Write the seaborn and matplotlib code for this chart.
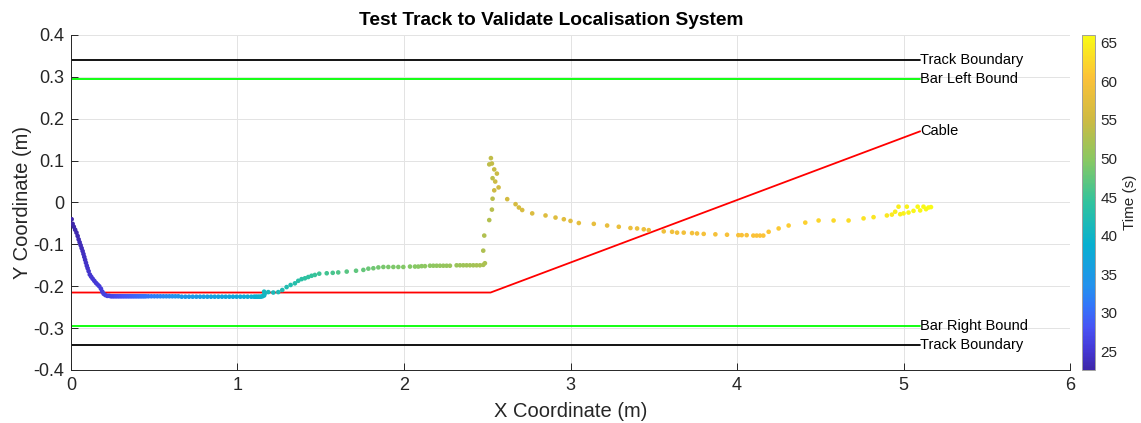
import numpy as np
import matplotlib
matplotlib.use("Agg")
import matplotlib.pyplot as plt
from matplotlib.colors import LinearSegmentedColormap, Normalize
from matplotlib.cm import ScalarMappable
import seaborn as sns

# ---------------------------------------------------------------- data
# Measured robot positions (m) and the time each sample was taken (s)
x_m = [
    # initial descent towards the cable
    0.004, 0.010, 0.017, 0.025, 0.033, 0.040, 0.046, 0.052, 0.058, 0.064,
    0.070, 0.075, 0.080, 0.085, 0.090, 0.095, 0.100, 0.106, 0.113, 0.121,
    0.130, 0.140, 0.150, 0.160, 0.170, 0.180, 0.188, 0.196, 0.206, 0.218,
    # slow straight run below the cable
    0.230, 0.240, 0.250, 0.260, 0.270, 0.280, 0.290, 0.300, 0.310, 0.320,
    0.330, 0.340, 0.350, 0.360, 0.370, 0.380, 0.390, 0.400, 0.410, 0.420,
    0.430, 0.440, 0.450,
    0.465, 0.483, 0.501, 0.519, 0.537, 0.555, 0.573, 0.591, 0.609, 0.627,
    0.645,
    0.665, 0.687, 0.709, 0.731, 0.753, 0.775, 0.797, 0.819, 0.841, 0.863,
    0.885, 0.907, 0.929, 0.951, 0.973, 0.995, 1.017, 1.039, 1.061, 1.083,
    1.100, 1.110, 1.120, 1.130, 1.140, 1.150, 1.160, 1.163, 1.160,
    # climb to the second straight
    1.185, 1.215, 1.245, 1.269, 1.295, 1.319, 1.345, 1.365, 1.385, 1.405,
    1.425, 1.445, 1.465, 1.491, 1.536, 1.572, 1.605, 1.656, 1.712, 1.756,
    1.786, 1.816, 1.846,
    1.876, 1.906, 1.936, 1.966, 1.996, 2.036, 2.066, 2.086, 2.106, 2.126,
    2.156, 2.176, 2.196, 2.216, 2.236, 2.256, 2.276, 2.316, 2.336, 2.356,
    2.376, 2.396, 2.416, 2.436, 2.456, 2.476,
    # spike at the cable bend
    2.486, 2.476, 2.482, 2.512, 2.528, 2.532, 2.532, 2.512, 2.522, 2.528,
    2.542, 2.558, 2.548, 2.542, 2.568,
    # long diagonal section
    2.620, 2.670, 2.690, 2.710, 2.770, 2.850, 2.910, 2.960, 3.000, 3.050,
    3.140, 3.220, 3.290, 3.360, 3.400, 3.440, 3.470, 3.560, 3.610, 3.640,
    3.680, 3.730, 3.760, 3.800, 3.870, 3.940,
    4.008, 4.028, 4.058, 4.098, 4.118, 4.138, 4.158,
    # final approach
    4.190, 4.250, 4.310, 4.410, 4.490, 4.580, 4.670, 4.760, 4.820, 4.900,
    4.930, 4.950, 4.970, 4.980, 5.000, 5.020, 5.030, 5.060, 5.085, 5.100,
    5.120, 5.135, 5.150, 5.165,
]
y_m = [
    -0.040, -0.051, -0.058, -0.065, -0.072, -0.080, -0.088, -0.095, -0.102, -0.109,
    -0.116, -0.123, -0.130, -0.137, -0.144, -0.151, -0.157, -0.164, -0.172, -0.177,
    -0.182, -0.187, -0.192, -0.196, -0.200, -0.206, -0.213, -0.218, -0.221, -0.223,
    -0.223, -0.224, -0.224, -0.224, -0.224, -0.224, -0.224, -0.224, -0.224, -0.224,
    -0.224, -0.224, -0.224, -0.224, -0.224, -0.224, -0.224, -0.224, -0.224, -0.224,
    -0.224, -0.224, -0.224,
    -0.224, -0.224, -0.224, -0.224, -0.224, -0.224, -0.224, -0.224, -0.224, -0.224,
    -0.224,
    -0.225, -0.225, -0.225, -0.225, -0.225, -0.225, -0.225, -0.225, -0.225, -0.225,
    -0.225, -0.225, -0.225, -0.225, -0.225, -0.225, -0.225, -0.225, -0.225, -0.225,
    -0.225, -0.225, -0.225, -0.225, -0.225, -0.224, -0.222, -0.218, -0.213,
    -0.214, -0.215, -0.214, -0.209, -0.202, -0.197, -0.193, -0.187, -0.183, -0.181,
    -0.178, -0.175, -0.173, -0.170, -0.169, -0.168, -0.167, -0.165, -0.163, -0.161,
    -0.158, -0.157, -0.155,
    -0.154, -0.154, -0.154, -0.154, -0.154, -0.153, -0.153, -0.153, -0.152, -0.152,
    -0.151, -0.151, -0.151, -0.151, -0.151, -0.151, -0.151, -0.150, -0.150, -0.150,
    -0.150, -0.150, -0.150, -0.150, -0.150, -0.149,
    -0.145, -0.115, -0.079, -0.042, -0.017, 0.009, 0.058, 0.091, 0.106, 0.093,
    0.079, 0.069, 0.050, 0.029, 0.036,
    0.008, -0.004, -0.012, -0.018, -0.026, -0.031, -0.036, -0.040, -0.044, -0.049,
    -0.051, -0.055, -0.058, -0.061, -0.062, -0.064, -0.066, -0.069, -0.070, -0.072,
    -0.072, -0.073, -0.074, -0.075, -0.076, -0.077,
    -0.078, -0.078, -0.078, -0.079, -0.079, -0.079, -0.079,
    -0.070, -0.062, -0.055, -0.048, -0.043, -0.043, -0.043, -0.038, -0.035, -0.031,
    -0.029, -0.022, -0.010, -0.028, -0.026, -0.010, -0.024, -0.020, -0.010, -0.019,
    -0.010, -0.016, -0.012, -0.011,
]
t_s = [
    22.6, 22.7, 22.8, 23.0, 23.1, 23.2, 23.3, 23.5, 23.6, 23.7,
    23.8, 24.0, 24.1, 24.2, 24.3, 24.5, 24.6, 24.7, 24.8, 25.0,
    25.1, 25.2, 25.3, 25.5, 25.6, 25.7, 25.8, 26.0, 26.1, 26.2,
    26.4, 26.6, 26.8, 27.0, 27.2, 27.4, 27.6, 27.8, 28.0, 28.2,
    28.4, 28.6, 28.8, 29.0, 29.2, 29.4, 29.6, 29.8, 30.0, 30.2,
    30.4, 30.6, 30.8,
    31.0, 31.3, 31.6, 31.9, 32.2, 32.5, 32.8, 33.1, 33.4, 33.7,
    34.0,
    34.3, 34.5, 34.7, 34.9, 35.1, 35.3, 35.5, 35.7, 35.9, 36.1,
    36.3, 36.5, 36.7, 36.9, 37.1, 37.3, 37.5, 37.7, 37.9, 38.1,
    38.4, 38.7, 39.0, 39.3, 39.6, 39.9, 40.2, 40.5, 40.8,
    41.1, 41.4, 41.7, 42.0, 42.3, 42.6, 42.9, 43.2, 43.5, 43.8,
    44.1, 44.4, 44.7, 45.0, 45.4, 45.8, 46.2, 46.7, 47.2, 47.6,
    47.9, 48.2, 48.5,
    48.8, 48.9, 49.1, 49.2, 49.4, 49.5, 49.7, 49.8, 49.9, 50.1,
    50.2, 50.4, 50.5, 50.7, 50.8, 50.9, 51.1, 51.2, 51.4, 51.5,
    51.7, 51.8, 51.9, 52.1, 52.2, 52.3,
    52.5, 52.7, 52.9, 53.1, 53.3, 53.5, 53.7, 53.9, 54.1, 54.3,
    54.5, 54.7, 54.9, 55.1, 55.3,
    55.6, 55.9, 56.1, 56.3, 56.6, 56.9, 57.1, 57.3, 57.5, 57.7,
    57.9, 58.1, 58.3, 58.5, 58.6, 58.7, 58.8, 59.0, 59.1, 59.2,
    59.3, 59.4, 59.5, 59.6, 59.7, 59.8,
    60.0, 60.1, 60.2, 60.3, 60.4, 60.5, 60.6,
    60.9, 61.2, 61.5, 61.9, 62.3, 62.7, 63.1, 63.5, 63.8, 64.1,
    64.3, 64.5, 64.7, 64.8, 65.0, 65.1, 65.2, 65.4, 65.5, 65.6,
    65.7, 65.8, 65.9, 66.0,
]
time_range = (22.6, 66.0)

# Reference lines of the test track
track_x_end = 5.1
boundary_y = 0.34
bar_bound_y = 0.295
cable_x = [0.0, 2.52, 5.1]
cable_y = [-0.215, -0.215, 0.17]
ref_labels = ["Track Boundary", "Bar Left Bound", "Cable",
              "Bar Right Bound", "Track Boundary"]

x_ticks = [0, 1, 2, 3, 4, 5, 6]
y_ticks = [-0.4, -0.3, -0.2, -0.1, 0.0, 0.1, 0.2, 0.3, 0.4]
y_tick_labels = ["-0.4", "-0.3", "-0.2", "-0.1", "0", "0.1", "0.2", "0.3", "0.4"]
cbar_ticks = [25, 30, 35, 40, 45, 50, 55, 60, 65]

# ---------------------------------------------------------------- style
sns.set_theme(style="white")
plt.rcParams["font.family"] = ["Liberation Sans", "DejaVu Sans"]
plt.rcParams["axes.unicode_minus"] = False

# parula-like colour map (violet -> blue -> teal -> green -> orange -> yellow)
parula_stops = [
    (0.000, (0.2422, 0.1504, 0.6603)),
    (0.060, (0.2700, 0.2200, 0.8400)),
    (0.125, (0.2810, 0.3228, 0.9579)),
    (0.190, (0.2000, 0.4600, 0.9800)),
    (0.250, (0.1400, 0.5700, 0.9300)),
    (0.375, (0.0300, 0.6900, 0.8150)),
    (0.500, (0.1900, 0.7650, 0.6200)),
    (0.625, (0.5300, 0.7850, 0.3900)),
    (0.750, (0.8100, 0.7300, 0.2600)),
    (0.875, (0.9900, 0.7600, 0.2200)),
    (1.000, (0.9769, 0.9839, 0.0805)),
]
parula = LinearSegmentedColormap.from_list("parula", parula_stops, N=256)
norm = Normalize(*time_range)

ink = "#262626"
fig = plt.figure(figsize=(11.41, 4.23), dpi=100)
ax = fig.add_axes([0.0622, 0.1253, 0.8756, 0.7920])
cax = fig.add_axes([0.9480, 0.1253, 0.0114, 0.7920])

# ---------------------------------------------------------------- track lines
line_w = 1.3
ax.plot([0, track_x_end], [boundary_y, boundary_y], color="black", lw=line_w)
ax.plot([0, track_x_end], [bar_bound_y, bar_bound_y], color="#00ff00", lw=line_w)
ax.plot(cable_x, cable_y, color="#ff0000", lw=line_w)
ax.plot([0, track_x_end], [-bar_bound_y, -bar_bound_y], color="#00ff00", lw=line_w)
ax.plot([0, track_x_end], [-boundary_y, -boundary_y], color="black", lw=line_w)

label_y = [boundary_y, bar_bound_y, cable_y[-1], -bar_bound_y, -boundary_y]
for txt, yy in zip(ref_labels, label_y):
    ax.text(track_x_end, yy, txt, ha="left", va="center", fontsize=10.5,
            color="black")

# ---------------------------------------------------------------- trajectory
sns.scatterplot(x=x_m, y=y_m, hue=t_s, palette=parula, hue_norm=norm,
                s=11, linewidth=0, legend=False, ax=ax, zorder=3)

# ---------------------------------------------------------------- axes
ax.set_xlim(0, 6)
ax.set_ylim(-0.4, 0.4)
ax.set_xticks(x_ticks)
ax.set_xticklabels([str(v) for v in x_ticks])
ax.set_yticks(y_ticks)
ax.set_yticklabels(y_tick_labels)
ax.grid(True, color="#e3e3e3", lw=0.7)
ax.set_axisbelow(True)
for side in ("top", "right"):
    ax.spines[side].set_visible(False)
for side in ("left", "bottom"):
    ax.spines[side].set_color(ink)
    ax.spines[side].set_linewidth(0.7)
ax.tick_params(direction="in", length=5, width=0.7, colors=ink,
               labelsize=13, pad=5, left=True, bottom=True)
ax.set_xlabel("X Coordinate (m)", fontsize=14.5, color=ink, labelpad=6)
ax.set_ylabel("Y Coordinate (m)", fontsize=14.5, color=ink, labelpad=1)
ax.set_title("Test Track to Validate Localisation System", fontsize=13.8,
             fontweight="bold", color="black", pad=7, x=0.4805)

sm = ScalarMappable(norm=norm, cmap=parula)
cb = fig.colorbar(sm, cax=cax)
cb.set_ticks(cbar_ticks)
cb.outline.set_edgecolor("#a0a0a0")
cb.outline.set_linewidth(0.7)
cax.tick_params(direction="in", length=3, width=0.7, colors=ink,
                labelsize=11, pad=4)
cb.set_label("Time (s)", fontsize=11, color=ink, labelpad=4)

fig.savefig("out.png", dpi=100)
